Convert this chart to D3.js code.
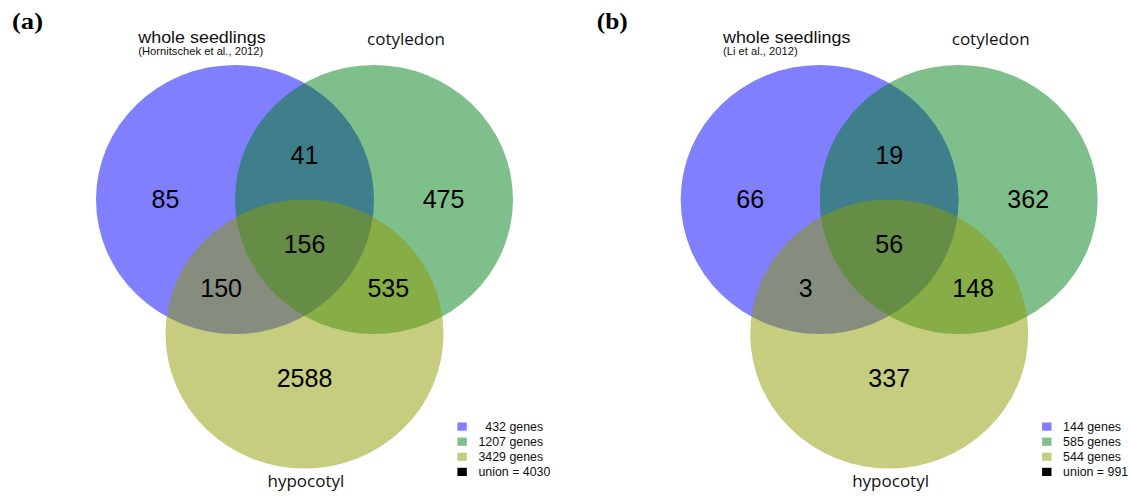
<!DOCTYPE html>
<html>
<head>
<meta charset="utf-8">
<script src="https://cdn.jsdelivr.net/npm/d3@7"></script>
<style>
  html, body { margin: 0; padding: 0; background: #ffffff; }
  svg text { white-space: pre; }
</style>
</head>
<body>
<svg id="chart" width="1130" height="497"></svg>
<script>
// ---- data ----
const setNames = ["whole seedlings", "cotyledon", "hypocotyl"];
const panelLabels = ["(a)", "(b)"];
const sources = ["(Hornitschek et al., 2012)", "(Li et al., 2012)"];
// region order: seedlings only, seedlings∩cotyledon, cotyledon only, all three,
//               seedlings∩hypocotyl, cotyledon∩hypocotyl, hypocotyl only
const regionsA = [85, 41, 475, 156, 150, 535, 2588];
const regionsB = [66, 19, 362, 56, 3, 148, 337];
const setSizesA = [432, 1207, 3429];
const setSizesB = [144, 585, 544];
const unionA = [4030];
const unionB = [991];

const setColors = ["#0000ff", "#007f19", "#8d9b00"];

// ---- layout (unit circle coordinates) ----
const centers = [[0, 0], [1, 0], [0.5, -1]];
const regionPos = [[-0.5, 0], [0.5, 0.327], [1.5, 0], [0.5, -0.331],
                   [-0.1, -0.662], [1.103, -0.662], [0.5, -1.33]];

const panels = [
  { label: panelLabels[0], source: sources[0], regions: regionsA, sizes: setSizesA, union: unionA[0], x0: 96 },
  { label: panelLabels[1], source: sources[1], regions: regionsB, sizes: setSizesB, union: unionB[0], x0: 680.7 }
];

const svg = d3.select("#chart");
const stretch = 1.12;

panels.forEach(p => {
  const x = d3.scaleLinear().domain([-1, 2]).range([p.x0, p.x0 + 417]);
  const y = d3.scaleLinear().domain([1, -2]).range([65, 468.5]);
  const g = svg.append("g");
  const rx = x(1) - x(0), ry = y(0) - y(1);

  g.selectAll("ellipse").data(centers).join("ellipse")
    .attr("cx", d => x(d[0])).attr("cy", d => y(d[1]))
    .attr("rx", rx).attr("ry", ry)
    .attr("fill", (d, i) => setColors[i])
    .attr("fill-opacity", 0.5);

  g.selectAll("text.count").data(p.regions).join("text")
    .attr("class", "count")
    .attr("x", (d, i) => x(regionPos[i][0]))
    .attr("y", (d, i) => y(regionPos[i][1]))
    .attr("dy", "0.35em")
    .attr("text-anchor", "middle")
    .style("font-family", "'Liberation Sans', Arial, sans-serif")
    .style("font-size", "25px")
    .attr("fill", "#000")
    .text(d => d);

  // panel label
  g.append("text")
    .attr("x", x(-1) - 84).attr("y", 29)
    .style("font-family", "'Liberation Serif', 'Times New Roman', serif")
    .style("font-weight", "bold")
    .style("font-size", "24px")
    .attr("textLength", 31).attr("lengthAdjust", "spacingAndGlyphs")
    .text(p.label);

  // set titles
  const ws = g.append("g").attr("transform", `translate(${x(-0.696)},43.3) scale(${stretch},1)`);
  ws.append("text")
    .style("font-family", "'Liberation Sans', Arial, sans-serif")
    .style("font-size", "16px").attr("fill", "#111")
    .text(setNames[0]);
  ws.append("text").attr("y", 11.7)
    .style("font-family", "'Liberation Sans', Arial, sans-serif")
    .style("font-size", "10px").attr("fill", "#111")
    .text(p.source);

  g.append("text")
    .attr("x", x(1.23)).attr("y", 45)
    .attr("text-anchor", "middle")
    .style("font-family", "'Open Sans', sans-serif")
    .style("font-size", "17px").attr("fill", "#111")
    .text(setNames[1]);

  g.append("text")
    .attr("x", x(0.51)).attr("y", 487.3)
    .attr("text-anchor", "middle")
    .style("font-family", "'Open Sans', sans-serif")
    .style("font-size", "17px").attr("fill", "#111")
    .text(setNames[2]);

  // legend
  const maxLen = d3.max(p.sizes, d => String(d).length);
  const legendItems = p.sizes.map((s, i) => ({
    color: setColors[i], opacity: 0.5,
    text: " ".repeat(2 * (maxLen - String(s).length)) + s + " genes"
  }));
  legendItems.push({ color: "#000", opacity: 1, text: "union = " + p.union });
  const lx = x(1.6);
  const lg = g.append("g");
  lg.selectAll("rect").data(legendItems).join("rect")
    .attr("x", lx).attr("y", (d, i) => 422.5 + i * 15.1)
    .attr("width", 9.4).attr("height", 8.2)
    .attr("fill", d => d.color).attr("fill-opacity", d => d.opacity);
  lg.selectAll("text").data(legendItems).join("text")
    .attr("x", lx + 21).attr("y", (d, i) => 431 + i * 15.1)
    .style("font-family", "'Liberation Sans', Arial, sans-serif")
    .style("font-size", "12.4px").attr("fill", "#111")
    .text(d => d.text);
});
</script>
</body>
</html>
